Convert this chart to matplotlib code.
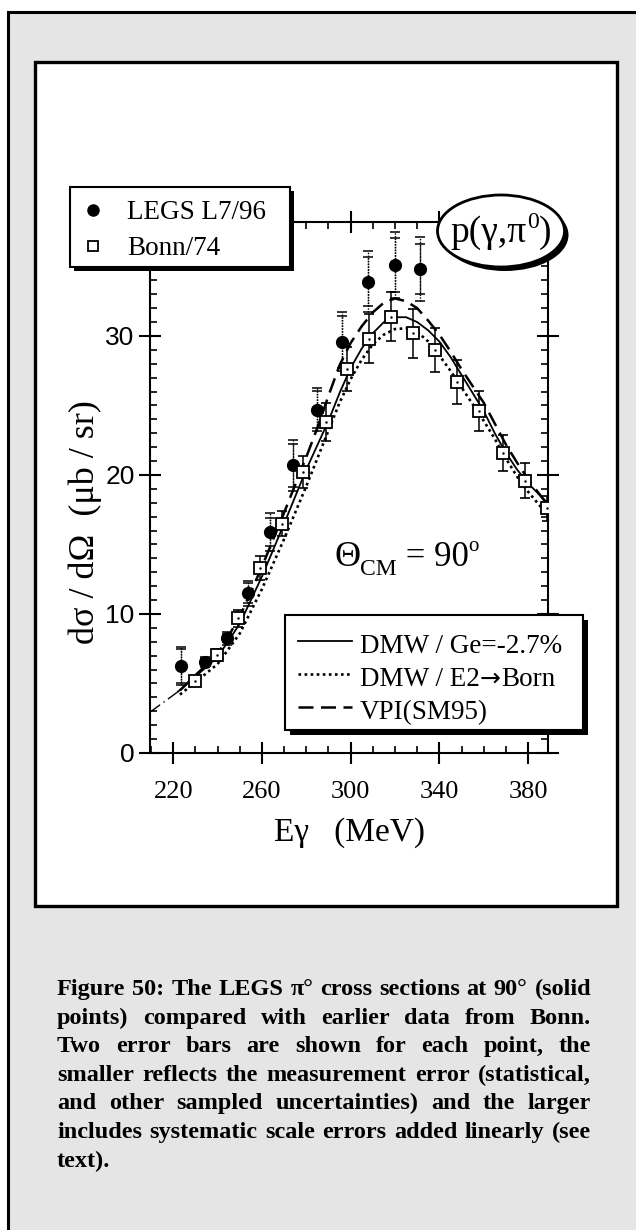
import matplotlib
matplotlib.use('Agg')
import matplotlib.pyplot as plt
from matplotlib.patches import Rectangle, Ellipse
from matplotlib.lines import Line2D
from matplotlib.ticker import MultipleLocator, FixedLocator

# LEGS L7/96 (filled circles), two error bars each
legs_e = [223.7, 234.4, 244.2, 253.5, 263.7, 274.1, 284.8, 295.9, 307.6, 320.1, 331.4]
legs_xs = [6.25, 6.55, 8.25, 11.5, 15.9, 20.7, 24.7, 29.6, 33.9, 35.1, 34.8]
legs_err_in = [1.2, 0.25, 0.3, 0.72, 1.03, 1.55, 1.32, 1.87, 1.75, 1.95, 1.8]
legs_err_out = [1.37, 0.35, 0.45, 0.9, 1.37, 1.85, 1.56, 2.15, 2.2, 2.4, 2.3]

# Bonn/74 (open squares)
bonn_e = [229.6, 239.7, 249.4, 259.2, 269.0, 278.7, 288.8, 298.2, 308.3, 318.1,
          328.0, 338.0, 348.0, 357.9, 368.9, 378.8, 388.5]
bonn_xs = [5.2, 7.05, 9.7, 13.3, 16.5, 20.2, 23.8, 27.6, 29.8, 31.4,
           30.2, 29.0, 26.7, 24.6, 21.6, 19.6, 17.6]
bonn_err = [0.3, 0.4, 0.6, 0.84, 0.9, 1.15, 1.37, 1.58, 1.75, 1.77,
            1.77, 1.56, 1.56, 1.44, 1.29, 1.23, 0.9]

# model curves
sol_e = [222, 230, 240, 250, 260, 270, 280, 290, 295, 300, 305, 310, 315, 320, 325,
         330, 335, 340, 345, 350, 355, 360, 365, 370, 375, 380, 390]
sol_xs = [4.4, 5.5, 6.9, 9.3, 12.7, 16.5, 20.4, 23.9, 25.9, 27.7, 29.1, 30.2, 31.0, 31.35, 31.35,
          31.0, 30.4, 29.6, 28.5, 27.2, 25.9, 24.6, 23.0, 21.6, 20.4, 19.4, 17.8]
ext_e = [210, 216.5, 222]
ext_xs = [3.0, 3.75, 4.4]

dot_e = [223, 230, 240, 250, 260, 270, 280, 290, 295, 300, 305, 310, 315, 320, 325,
         330, 335, 340, 345, 350, 355, 360, 365, 370, 375, 380, 390]
dot_xs = [4.2, 5.1, 6.4, 8.6, 11.8, 15.4, 19.2, 23.2, 25.2, 26.9, 28.3, 29.4, 30.1, 30.5, 30.55,
          30.3, 29.6, 28.6, 27.5, 26.3, 25.1, 23.9, 22.6, 21.2, 19.9, 18.8, 16.9]

vpi_e = [223, 230, 240, 250, 260, 270, 280, 285, 290, 295, 300, 305, 310, 315, 320, 325,
         330, 335, 340, 345, 350, 355, 360, 365, 370, 375, 380, 390]
vpi_xs = [4.5, 5.6, 7.1, 9.8, 13.4, 17.3, 21.3, 23.4, 25.7, 27.9, 29.5, 30.7, 31.7, 32.4, 32.7, 32.5,
          32.0, 31.1, 30.1, 28.9, 27.6, 26.4, 25.2, 23.7, 22.2, 20.9, 19.7, 17.6]

x_ticks = [220, 260, 300, 340, 380]
y_ticks = [0, 10, 20, 30]

caption = [
    "Figure 50: The LEGS π° cross sections at 90° (solid",
    "points) compared with earlier data from Bonn.",
    "Two error bars are shown for each point, the",
    "smaller reflects the measurement error (statistical,",
    "and other sampled uncertainties) and the larger",
    "includes systematic scale errors added linearly (see",
    "text).",
]

SERIF = ['Liberation Serif', 'DejaVu Serif']
NARROW = ['Liberation Sans Narrow', 'Liberation Sans', 'DejaVu Sans']
W, H = 636, 1230

fig = plt.figure(figsize=(W / 100, H / 100), dpi=100)
fig.patch.set_facecolor('white')

# page background (pixel coordinates)
bg = fig.add_axes([0, 0, 1, 1], zorder=-2)
bg.set_xlim(0, W)
bg.set_ylim(H, 0)
bg.axis('off')
bg.add_patch(Rectangle((8, 12), W + 20, H + 20, fc='#e5e5e5', ec='black', lw=2.2))
bg.add_patch(Rectangle((35, 62), 582, 844, fc='white', ec='black', lw=2.4))

# main plot
ax = fig.add_axes([150 / W, 1 - 753 / H, (548 - 150) / W, (753 - 222) / H])
ax.set_facecolor('none')
ax.set_xlim(209.5, 389.0)
ax.set_ylim(0, 38.2)

ax.plot(ext_e, ext_xs, color='black', lw=1.0, ls=(0, (8, 3, 1, 3)), zorder=2)
ax.plot(sol_e, sol_xs, color='black', lw=1.3, zorder=2)
ax.plot(dot_e, dot_xs, color='black', lw=1.9, ls=(0, (1, 1.3)), zorder=2)
ax.plot(vpi_e, vpi_xs, color='black', lw=1.8, ls=(0, (6, 3)), zorder=2)

eb = ax.errorbar(bonn_e, bonn_xs, yerr=bonn_err, fmt='none', ecolor='black',
                 elinewidth=1.1, capsize=3.5, capthick=1.2, zorder=3)
for err in (legs_err_out, legs_err_in):
    eb = ax.errorbar(legs_e, legs_xs, yerr=err, fmt='none', ecolor='black',
                     elinewidth=1.0, capsize=3.5, capthick=1.1, zorder=3)
    eb[2][0].set_linestyle((0, (1, 1)))

ax.plot(legs_e, legs_xs, 'o', color='black', ms=8.5, zorder=4)
ax.plot(bonn_e, bonn_xs, 's', mfc='white', mec='black', mew=1.3, ms=8.5, zorder=4)
ax.plot(bonn_e, bonn_xs, '.', color='black', ms=1.5, zorder=5)

for s in ax.spines.values():
    s.set_linewidth(1.5)
ax.xaxis.set_major_locator(FixedLocator(x_ticks))
ax.xaxis.set_minor_locator(MultipleLocator(10))
ax.yaxis.set_major_locator(FixedLocator(y_ticks))
ax.yaxis.set_minor_locator(MultipleLocator(1))
ax.tick_params(which='major', direction='inout', length=16, width=1.5,
               top=True, right=True)
ax.tick_params(which='minor', direction='in', length=5, width=1.2,
               top=True, right=True)
ax.tick_params(axis='x', which='major', pad=12)
ax.tick_params(axis='y', which='major', pad=3)
ax.set_xticks(x_ticks, [str(v) for v in x_ticks], fontfamily=SERIF, fontsize=19)
ax.set_yticks(y_ticks, [str(v) for v in y_ticks], fontfamily=NARROW, fontsize=19)

# overlay: legends, labels, caption (pixel coordinates)
ov = fig.add_axes([0, 0, 1, 1], zorder=5)
ov.set_xlim(0, W)
ov.set_ylim(H, 0)
ov.axis('off')
renderer = fig.canvas.get_renderer()


def width(t):
    return t.get_window_extent(renderer).width


def run(x, y, pieces, center=False):
    # pieces: (text, size, dy, family)
    texts = []
    for s, size, dy, fam in pieces:
        t = ov.text(0, y + dy, s, fontsize=size, family=fam, va='baseline', ha='left', zorder=12)
        texts.append(t)
    total = sum(width(t) for t in texts)
    if center:
        x = x - total / 2
    for t in texts:
        t.set_x(x)
        x += width(t)


# data legend, upper left
ov.add_patch(Rectangle((74, 191), 220, 80, fc='black', ec='none', zorder=10))
ov.add_patch(Rectangle((70, 187), 220, 80, fc='white', ec='black', lw=1.5, zorder=11))
ov.add_line(Line2D([93], [210], marker='o', color='black', ms=8, zorder=12))
ov.add_line(Line2D([93], [246], marker='s', mfc='white', mec='black', mew=1.3, ms=7.5, zorder=12))
ov.text(127, 219, 'LEGS L7/96', fontsize=19.5, family=SERIF, va='baseline', zorder=12)
ov.text(127, 255, 'Bonn/74', fontsize=19.5, family=SERIF, va='baseline', zorder=12)

# reaction oval
ov.add_patch(Ellipse((505, 235), 127, 72, fc='black', ec='none', zorder=10))
ov.add_patch(Ellipse((501, 231), 127, 72, fc='white', ec='black', lw=2, zorder=11))
run(501, 242, [('p(γ,π', 27, 0, SERIF), ('0', 17, -14, SERIF), (')', 27, 0, SERIF)], center=True)

# curve legend, lower right
ov.add_patch(Rectangle((290, 620), 298, 115, fc='black', ec='none', zorder=10))
ov.add_patch(Rectangle((285, 615), 298, 115, fc='white', ec='black', lw=1.5, zorder=11))
ov.add_line(Line2D([298, 352], [641, 641], color='black', lw=1.3, zorder=12))
ov.add_line(Line2D([298, 352], [674, 674], color='black', lw=1.9, ls=(0, (1, 1.3)), zorder=12))
ov.add_line(Line2D([298, 352], [707, 707], color='black', lw=1.8, ls=(0, (6, 3)), zorder=12))
ov.text(360, 653, 'DMW / Ge=-2.7%', fontsize=19.5, family=SERIF, va='baseline', zorder=12)
run(360, 686, [('DMW / E2', 19.5, 0, SERIF), ('→', 18, 0, ['DejaVu Sans']),
               ('Born', 19.5, 0, SERIF)])
ov.text(360, 719, 'VPI(SM95)', fontsize=19.5, family=SERIF, va='baseline', zorder=12)

# angle annotation
run(334, 566, [('Θ', 26, 0, SERIF), ('CM', 17, 9, SERIF), (' = 90', 25, 0, SERIF),
               ('o', 15, -15, SERIF)])

# axis titles
ov.text(350, 833, 'Eγ   (MeV)', fontsize=24, family=SERIF, ha='center', va='center')
ov.text(85, 522, 'dσ / dΩ  (μb / sr)', fontsize=26, family=SERIF, rotation=90,
        ha='center', va='center')

# caption, one text per word, justified between x0 and x1
x0, x1 = 57, 591
for i, line in enumerate(caption):
    y = 995 + i * 28.6
    words = line.split()
    texts = []
    for j, w in enumerate(words):
        heavy = i == 0 and j < 2
        t = ov.text(0, y, w, fontsize=17.5, family='Liberation Serif',
                    weight='heavy' if heavy else 'bold', va='baseline', zorder=12)
        texts.append(t)
    widths = [width(t) for t in texts]
    if i < len(caption) - 1 and len(texts) > 1:
        gap = (x1 - x0 - sum(widths)) / (len(texts) - 1)
    else:
        gap = 5
    x = x0
    for t, w in zip(texts, widths):
        t.set_x(x)
        x += w + gap

fig.savefig('out.png', dpi=100)
